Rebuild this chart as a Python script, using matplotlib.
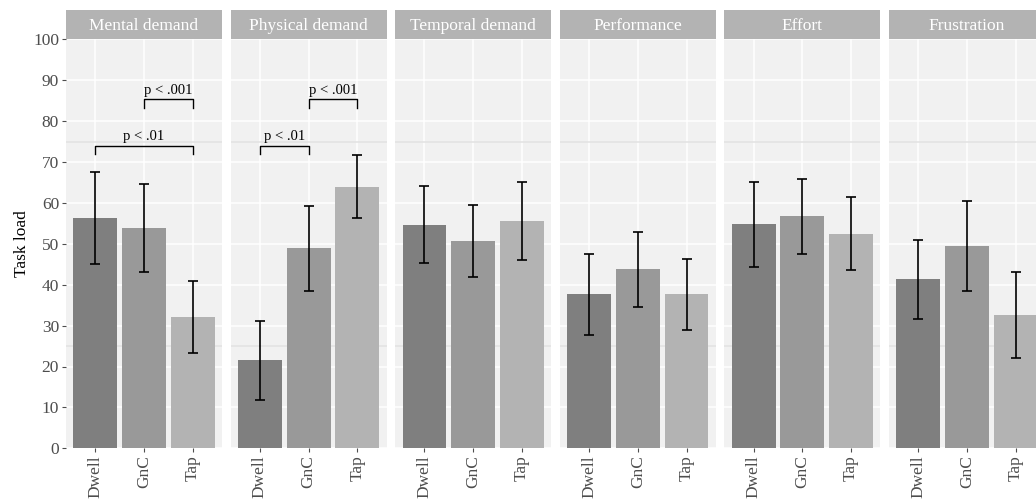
import numpy as np
import matplotlib
matplotlib.use('Agg')
import matplotlib.pyplot as plt

plt.rcParams['font.family'] = ['Liberation Serif', 'DejaVu Serif']

# data
facets = ['Mental demand', 'Physical demand', 'Temporal demand', 'Performance', 'Effort', 'Frustration']
methods = ['Dwell', 'GnC', 'Tap']
bar_cols = ['#7f7f7f', '#999999', '#b3b3b3']

means = [[56.3, 53.9, 32.1],
         [21.6, 48.9, 63.8],
         [54.6, 50.7, 55.6],
         [37.7, 43.8, 37.7],
         [54.8, 56.8, 52.4],
         [41.4, 49.5, 32.6]]
upper = [[67.6, 64.5, 40.8],
         [31.1, 59.2, 71.6],
         [64.1, 59.6, 65.1],
         [47.4, 53.0, 46.3],
         [65.2, 65.8, 61.4],
         [50.9, 60.5, 43.1]]
lower = [[45.1, 43.0, 23.3],
         [11.9, 38.5, 56.2],
         [45.2, 42.0, 46.1],
         [27.8, 34.5, 29.0],
         [44.4, 47.5, 43.5],
         [31.7, 38.5, 22.2]]

# significance brackets: (facet, from, to, height, label)
sig = [(0, 0, 2, 74.0, 'p < .01'),
       (0, 1, 2, 85.3, 'p < .001'),
       (1, 0, 1, 74.0, 'p < .01'),
       (1, 1, 2, 85.3, 'p < .001')]

W, H = 1036, 500
fig = plt.figure(figsize=(W / 100, H / 100), dpi=100)

left0 = 66
step = 164.6
pw = 156
ptop, pbot = 39.3, 448.3
stop = 10
fs = 12.5

x = np.arange(1, 4)
axes = []
for i, name in enumerate(facets):
    l = left0 + i * step
    ax = fig.add_axes([l / W, 1 - pbot / H, pw / W, (pbot - ptop) / H])
    ax.set_facecolor('#f1f1f1')
    for s in ax.spines.values():
        s.set_visible(False)
    ax.set_xlim(0.4, 3.6)
    ax.set_ylim(0, 100)
    ax.set_yticks(np.arange(0, 101, 10))
    ax.set_xticks(x)
    ax.set_xticklabels(methods, rotation=90, color='#4d4d4d', fontsize=fs)
    ax.grid(True, color='white', lw=1.1)
    ax.set_axisbelow(True)
    for yy in [25, 75]:
        ax.axhline(yy, color='#e2e2e2', lw=1.1, zorder=0.8)
    ax.tick_params(axis='both', length=3, color='#4d4d4d', width=0.8, pad=2)
    if i == 0:
        ax.set_yticklabels([str(v) for v in range(0, 101, 10)], color='#4d4d4d', fontsize=fs)
        ax.set_ylabel('Task load', fontsize=fs, labelpad=2)
    else:
        ax.tick_params(axis='y', left=False, labelleft=False)

    m = np.array(means[i])
    up = np.array(upper[i])
    lo = np.array(lower[i])
    ax.bar(x, m, width=0.9, color=bar_cols, zorder=2)
    ax.errorbar(x, m, yerr=[m - lo, up - m], fmt='none', ecolor='black',
                elinewidth=1.2, capsize=3.7, capthick=1.2, zorder=3)

    sax = fig.add_axes([l / W, 1 - ptop / H, pw / W, (ptop - stop) / H])
    sax.set_facecolor('#b3b3b3')
    sax.set_xticks([])
    sax.set_yticks([])
    for s in sax.spines.values():
        s.set_visible(False)
    sax.text(0.5, 0.45, name, color='white', fontsize=fs, ha='center', va='center',
             transform=sax.transAxes)
    axes.append(ax)

for fi, a, b, h, lab in sig:
    ax = axes[fi]
    xa, xb = x[a], x[b]
    ax.plot([xa, xa, xb, xb], [h - 2, h, h, h - 2], color='black', lw=1.0, zorder=4)
    ax.text((xa + xb) / 2, h + 0.6, lab, ha='center', va='bottom', fontsize=10.5, zorder=4)

fig.savefig('out.png', dpi=100)
